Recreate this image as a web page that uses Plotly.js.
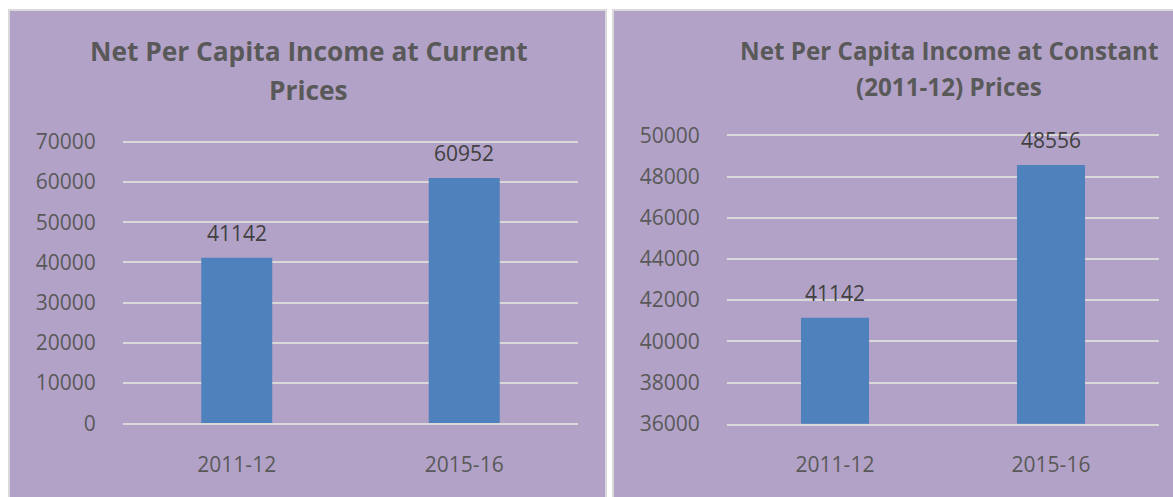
<!DOCTYPE html>
<html>
<head>
<meta charset="utf-8">
<script src="https://cdn.plot.ly/plotly-3.0.1.min.js"></script>
<style>
html,body{margin:0;padding:0;background:#fff;}
#chart{width:1173px;height:497px;}
</style>
</head>
<body>
<div id="chart"></div>
<script>
// Data
const categories = ["2011-12", "2015-16"];
const currentPrices = [41142, 60952];
const constantPrices = [41142, 48556];
const leftTitleLines = ["Net Per Capita Income at Current", "Prices"];
const rightTitleLines = ["Net Per Capita Income at Constant", "(2011-12) Prices"];
const leftTicks = [0, 10000, 20000, 30000, 40000, 50000, 60000, 70000];
const rightTicks = [36000, 38000, 40000, 42000, 44000, 46000, 48000, 50000];

const W = 1173, H = 497;
const px = v => v / W;
const py = v => (H - v) / H;

const FONT = "Open Sans, Noto Sans, sans-serif";
const TXT = "#595959";
const LBL = "#404040";
const PURPLE = "#B3A2C7";
const BAR = "#4F81BD";
const GRID = "#D9D9D9";

const traces = [
  {type: "bar", x: categories, y: currentPrices, xaxis: "x", yaxis: "y",
   marker: {color: BAR}, width: 0.312, hoverinfo: "none"},
  {type: "bar", x: categories, y: constantPrices, xaxis: "x2", yaxis: "y2",
   marker: {color: BAR}, width: 0.315, hoverinfo: "none"}
];

// extend the plot area a few pixels above the top tick so its gridline is drawn
const PAD = 6;
function yAxis(bottomPx, topPx, ticks, anchor) {
  const lo = ticks[0], hi = ticks[ticks.length - 1];
  const perPx = (hi - lo) / (bottomPx - topPx);
  return {
    domain: [py(bottomPx), py(topPx - PAD)], range: [lo, hi + PAD * perPx],
    tickvals: ticks, ticktext: ticks.map(String),
    showgrid: true, gridcolor: GRID, gridwidth: 2, zeroline: false,
    showline: false, ticks: "outside", ticklen: 22, tickcolor: "rgba(0,0,0,0)",
    tickfont: {family: FONT, size: 21, color: TXT}, anchor: anchor, fixedrange: true
  };
}
function xAxis(domain, anchor) {
  return {
    domain: domain, type: "category", showgrid: false, zeroline: false,
    showline: true, linecolor: GRID, linewidth: 2,
    ticks: "outside", ticklen: 21, tickcolor: "rgba(0,0,0,0)",
    tickfont: {family: FONT, size: 21, color: TXT}, anchor: anchor, fixedrange: true
  };
}

const annotations = [];
function dataLabels(vals, xr, yr) {
  vals.forEach((v, i) => {
    annotations.push({xref: xr, yref: yr, x: categories[i], y: v, text: String(v),
      showarrow: false, yanchor: "bottom", yshift: 9,
      font: {family: FONT, size: 21, color: LBL}});
  });
}
dataLabels(currentPrices, "x", "y");
dataLabels(constantPrices, "x2", "y2");

function titleLines(lines, cx, ys, size) {
  lines.forEach((t, i) => {
    annotations.push({xref: "paper", yref: "paper", x: px(cx), y: py(ys[i]),
      xanchor: "center", yanchor: "middle", text: "<b>" + t + "</b>", showarrow: false,
      font: {family: FONT, size: size, color: TXT}});
  });
}
titleLines(leftTitleLines, 308.5, [51.5, 90], 26.3);
titleLines(rightTitleLines, 948.5, [50, 86.5], 24.2);

const layout = {
  width: W, height: H, margin: {l: 0, r: 0, t: 0, b: 0},
  paper_bgcolor: "#ffffff", plot_bgcolor: "rgba(0,0,0,0)",
  showlegend: false,
  xaxis: xAxis([px(123), px(578)], "y"),
  yaxis: yAxis(423.3, 141.7, leftTicks, "x"),
  xaxis2: xAxis([px(727), px(1159)], "y2"),
  yaxis2: yAxis(423.7, 135.3, rightTicks, "x2"),
  shapes: [
    {type: "rect", xref: "paper", yref: "paper", layer: "below",
     x0: px(9), x1: px(606), y0: -0.02, y1: py(10),
     fillcolor: PURPLE, line: {color: GRID, width: 2}},
    {type: "rect", xref: "paper", yref: "paper", layer: "below",
     x0: px(613), x1: 1.02, y0: -0.02, y1: py(10),
     fillcolor: PURPLE, line: {color: GRID, width: 2}}
  ],
  annotations: annotations
};

Plotly.newPlot("chart", traces, layout, {displayModeBar: false, staticPlot: true});
</script>
</body>
</html>
